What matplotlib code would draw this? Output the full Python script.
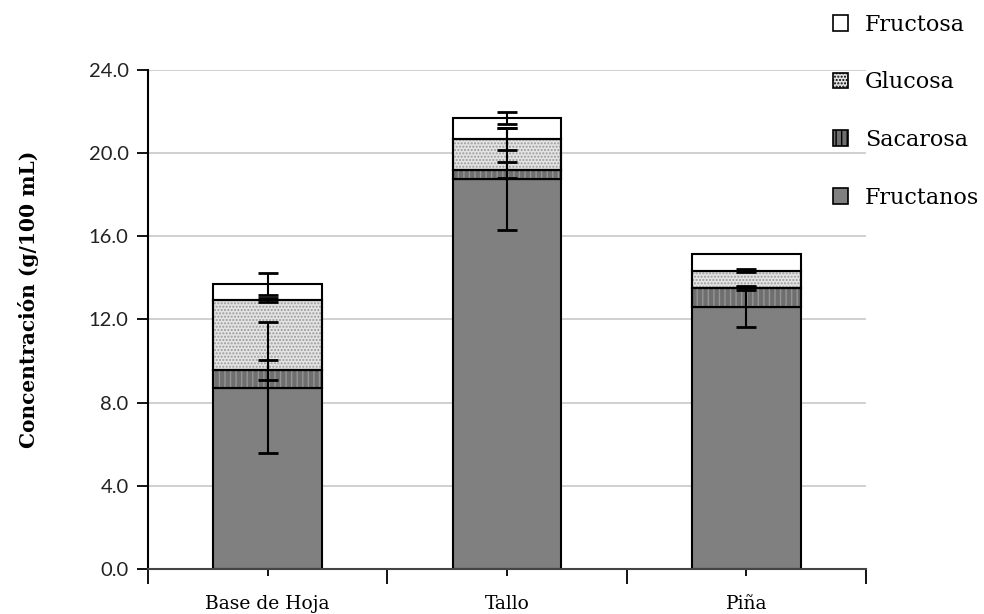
import matplotlib
matplotlib.use("Agg")
import matplotlib.pyplot as plt
from matplotlib.patches import Patch
import numpy as np

# data
categorias = ["Base de Hoja", "Tallo", "Piña"]
fructanos = [8.71, 18.76, 12.62]
sacarosa = [0.86, 0.43, 0.88]
glucosa = [3.37, 1.49, 0.85]
fructosa = [0.77, 1.00, 0.79]
err_fructanos = [3.15, 2.45, 1.0]
err_sacarosa = [0.48, 0.40, 0.06]
err_glucosa = [0.08, 0.55, 0.06]
err_fructosa = [0.55, 0.28, 0.0]

series = [
    # name, values, errors, face, hatch, hatch colour
    ("Fructanos", fructanos, err_fructanos, "#808080", None, None),
    ("Sacarosa", sacarosa, err_sacarosa, "#6f6f6f", "|||", "#959595"),
    ("Glucosa", glucosa, err_glucosa, "#e4e4e4", ".....", "#9a9a9a"),
    ("Fructosa", fructosa, err_fructosa, "white", None, None),
]

fig = plt.figure(figsize=(9.84, 6.14), dpi=100)
ax = fig.add_axes([0.1504, 0.0733, 0.7296, 0.8127])

x = np.arange(len(categorias))
width = 0.455
bottom = np.zeros(len(categorias))
handles = []
tops = []
for name, vals, errs, face, hatch, hcol in series:
    vals = np.array(vals)
    ax.bar(x, vals, width, bottom=bottom, color=face, edgecolor="black",
           linewidth=1.5, zorder=2)
    if hatch:
        ax.bar(x, vals, width, bottom=bottom, color="none", edgecolor=hcol,
               hatch=hatch, linewidth=0, zorder=2.5)
        ax.bar(x, vals, width, bottom=bottom, color="none", edgecolor="black",
               linewidth=1.5, zorder=2.6)
    bottom = bottom + vals
    tops.append((bottom.copy(), np.array(errs)))
    handles.append(Patch(facecolor=face, edgecolor="black", hatch=hatch,
                         linewidth=1.2, label=name))

for top, errs in tops:
    m = errs > 0
    ax.errorbar(x[m], top[m], yerr=errs[m], fmt="none", ecolor="black",
                elinewidth=1.5, capsize=7, capthick=2, zorder=4)

ax.set_xlim(-0.5, 2.5)
ax.set_ylim(0, 24)
yt = np.arange(0, 24.1, 4)
ax.set_yticks(yt)
ax.set_yticklabels([f"{v:.1f}" for v in yt], fontsize=14.5, family="Lato",
                   color="#222222")
ax.yaxis.grid(True, color="#c8c8c8", linewidth=1.2, zorder=0)
ax.set_axisbelow(True)

ax.set_xticks(x)
ax.set_xticklabels(categorias, fontsize=13.5, family="DejaVu Serif")
ax.set_xticks([-0.5, 0.5, 1.5, 2.5], minor=True)
ax.tick_params(axis="x", which="major", length=5, width=1.3, pad=14)
ax.tick_params(axis="x", which="minor", length=11, width=1.3)
ax.tick_params(axis="y", length=8, width=1.3, pad=6)

for s in ["top", "right"]:
    ax.spines[s].set_visible(False)
ax.spines["left"].set_linewidth(1.5)
ax.spines["bottom"].set_linewidth(1.5)
ax.spines["bottom"].set_color("#444444")

ax.set_ylabel("Concentración (g/100 mL)", fontsize=14.5, fontweight="bold",
              family="DejaVu Serif")
ax.yaxis.set_label_coords(-0.152, 0.54)

leg = fig.legend(handles=handles[::-1], loc="upper left",
                 bbox_to_anchor=(0.826, 1.01), frameon=False,
                 prop={"family": "DejaVu Serif", "size": 16},
                 handlelength=0.7, handleheight=0.7, labelspacing=1.6,
                 handletextpad=0.75)

fig.savefig("out.png", dpi=100)
